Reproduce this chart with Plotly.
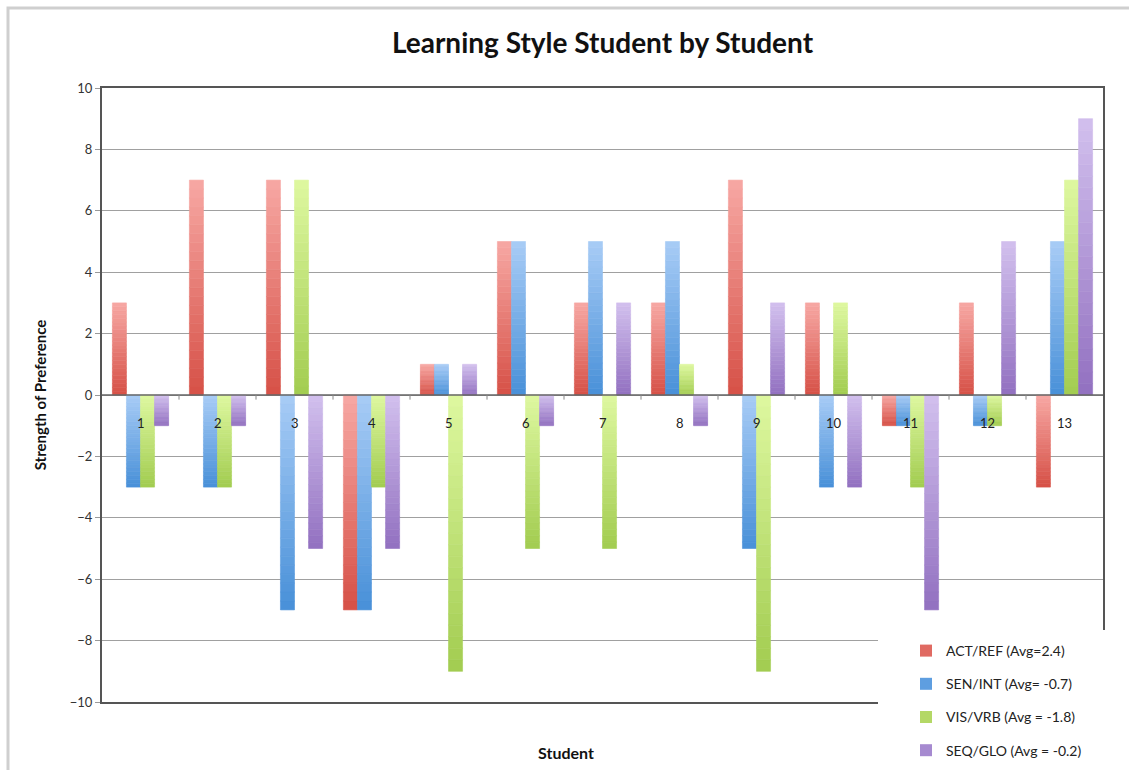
import plotly.graph_objects as go

students = ["1", "2", "3", "4", "5", "6", "7", "8", "9", "10", "11", "12", "13"]
act_ref = [3, 7, 7, -7, 1, 5, 3, 3, 7, 3, -1, 3, -3]
sen_int = [-3, -3, -7, -7, 1, 5, 5, 5, -5, -3, -1, -1, 5]
vis_vrb = [-3, -3, 7, -3, -9, -5, -5, 1, -9, 3, -3, -1, 7]
seq_glo = [-1, -1, -5, -5, 1, -1, 3, -1, 3, -3, -7, 5, 9]
series_names = ["ACT/REF (Avg=2.4)", "SEN/INT (Avg= -0.7)",
                "VIS/VRB (Avg = -1.8)", "SEQ/GLO (Avg = -0.2)"]
y_ticks = [-10, -8, -6, -4, -2, 0, 2, 4, 6, 8, 10]

# light (top of bar) / dark (bottom of bar) colours per series
light = [(247, 168, 164), (168, 204, 246), (222, 248, 160), (210, 192, 238)]
dark = [(214, 80, 70), (72, 144, 216), (162, 204, 80), (146, 112, 192)]
legend_col = ["#e06a62", "#5e9ee0", "#b4d866", "#a68ad0"]

N = 24


def mix(a, b, t):
    return "rgb(%d,%d,%d)" % tuple(round(a[i] + (b[i] - a[i]) * t) for i in range(3))


fig = go.Figure()
all_series = [act_ref, sen_int, vis_vrb, seq_glo]
for s, vals in enumerate(all_series):
    og = "g%d" % s
    for k in range(N):
        ys, bases, cols = [], [], []
        for v in vals:
            ys.append(v / N)
            bases.append(v * k / N)
            if v >= 0:
                t = (N - k - 0.5) / N
            else:
                t = (k + 0.5) / N
            cols.append(mix(light[s], dark[s], t))
        fig.add_trace(go.Bar(
            x=students, y=ys, base=bases, offsetgroup=og,
            marker=dict(color=cols, line=dict(width=0.6, color=cols)),
            showlegend=False, legendgroup=og, hoverinfo="skip"))
    fig.add_trace(go.Bar(
        x=[students[0]], y=[0], offsetgroup=og, name=series_names[s],
        marker=dict(color=legend_col[s], line=dict(width=0)),
        showlegend=True, legendgroup=og, hoverinfo="skip"))

W, H = 1129, 770
ml, mr, mt, mb = 102, 26, 88, 68
pw, ph = W - ml - mr, H - mt - mb


def px_x(p):
    return (p - ml) / pw


def px_y(p):
    return (H - mb - p) / ph


# category labels just under the zero line
for i, st in enumerate(students):
    fig.add_annotation(x=i, y=0, text=st, showarrow=False, xref="x", yref="y",
                       yanchor="middle", yshift=-28,
                       font=dict(size=13, color="#222", family="Lato"))

fig.add_annotation(x=px_x(566), y=px_y(752), xref="paper", yref="paper",
                   text="<b>Student</b>", showarrow=False, xanchor="center",
                   yanchor="middle", font=dict(size=16, color="#111", family="Lato"))

# outer chart frame
fig.add_shape(type="rect", xref="paper", yref="paper",
              x0=px_x(8), x1=px_x(1140), y0=px_y(8), y1=px_y(790),
              line=dict(color="#cfcfcf", width=3), layer="below")
# zero (category) axis line
fig.add_shape(type="line", xref="paper", yref="y", x0=0, x1=1, y0=0, y1=0,
              line=dict(color="#666", width=1.5))
# category boundary ticks on zero line
for i in range(1, len(students)):
    fig.add_shape(type="line", xref="x", yref="y", x0=i - 0.5, x1=i - 0.5,
                  y0=0, y1=-0.15, line=dict(color="#888", width=1))
# white legend panel covering the plot's corner
fig.add_shape(type="rect", xref="paper", yref="paper",
              x0=px_x(878), x1=px_x(1126), y0=px_y(630), y1=px_y(768),
              fillcolor="white", line=dict(width=0), layer="above")

fig.update_layout(
    width=W, height=H,
    margin=dict(l=ml, r=mr, t=mt, b=mb, autoexpand=False),
    paper_bgcolor="white", plot_bgcolor="white",
    barmode="group", bargap=0.27, bargroupgap=0,
    title=dict(text="<b>Learning Style Student by Student</b>", x=0.5, xanchor="center",
               xref="paper", y=1 - 43 / H, yanchor="middle",
               font=dict(family="Lato", size=28, color="#111")),
    font=dict(family="Lato", size=12, color="#222"),
    xaxis=dict(type="category", showticklabels=False, showgrid=False, ticks="",
               range=[-0.5, 12.5], showline=True, linecolor="#555", linewidth=2,
               mirror=True, zeroline=False),
    yaxis=dict(range=[-10, 10], tickvals=y_ticks, ticks="outside", ticklen=5,
               tickcolor="#999", showgrid=True, gridcolor="#a0a0a0", gridwidth=1,
               showline=True, linecolor="#555", linewidth=2, mirror=True,
               zeroline=False, tickfont=dict(size=13, color="#333"),
               title=dict(text="<b>Strength of Preference</b>", standoff=20,
                          font=dict(size=15, color="#111"))),
    legend=dict(x=px_x(906), y=px_y(635), xanchor="left", yanchor="top",
                bgcolor="rgba(0,0,0,0)", borderwidth=0, tracegroupgap=12,
                font=dict(size=14, color="#222"),
                traceorder="grouped"),
    showlegend=True,
)

fig.write_html("out.html")
